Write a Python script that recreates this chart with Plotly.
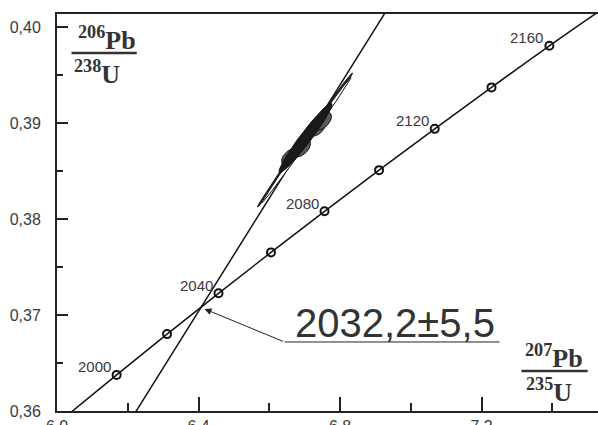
import numpy as np
import plotly.graph_objects as go

# Concordia (ages in Ma, 207Pb/235U, 206Pb/238U)
conc_age = [1980, 2000, 2020, 2040, 2060, 2080, 2100, 2120, 2140, 2160, 2180]
conc_x = [6.0287, 6.1686, 6.3111, 6.4566, 6.6049, 6.7562, 6.9104, 7.0678, 7.2283, 7.3919, 7.5589]
conc_y = [0.35954, 0.36376, 0.36801, 0.37226, 0.37652, 0.38080, 0.38509, 0.38939, 0.39371, 0.39804, 0.40231]
marker_ages = [2000, 2020, 2040, 2060, 2080, 2100, 2120, 2140, 2160]
label_ages = [2000, 2040, 2080, 2120, 2160]

# Discordia line
disc_x = [6.20, 6.95]
disc_y = [0.35858, 0.40281]

# Error ellipses: centre, half-extents, correlation
ell_cx = [6.7011, 6.7053, 6.6572, 6.6912, 6.7364, 6.7505, 6.7025]
ell_cy = [0.38823, 0.38823, 0.38646, 0.38740, 0.38948, 0.39021, 0.38844]
ell_sx = [0.1343, 0.1258, 0.0225, 0.0255, 0.0225, 0.0255, 0.0750]
ell_sy = [0.00698, 0.00651, 0.00084, 0.00094, 0.00084, 0.00094, 0.00362]
ell_rho = [0.9979, 0.9982, 0.5, 0.5, 0.5, 0.5, 0.966]
ell_fill = ["#2a2a2a", "#ffffff", "#5a5a5a", "#5a5a5a", "#5a5a5a", "#5a5a5a", "#1a1a1a"]

# Intercept result
intercept_label = "2032,2±5,5"
intercept_x = 6.4170
intercept_y = 0.37063

x_major = [6.0, 6.4, 6.8, 7.2]
x_minor = [6.2, 6.6, 7.0, 7.4]
y_major = [0.36, 0.37, 0.38, 0.39, 0.40]
y_minor = [0.365, 0.375, 0.385, 0.395]

fig = go.Figure()

fig.add_trace(go.Scatter(x=disc_x, y=disc_y, mode="lines",
                         line=dict(color="#111", width=1.5), hoverinfo="skip"))
fig.add_trace(go.Scatter(x=conc_x, y=conc_y, mode="lines", line_shape="spline",
                         line=dict(color="#111", width=1.5), hoverinfo="skip"))
mx = [conc_x[conc_age.index(a)] for a in marker_ages]
my = [conc_y[conc_age.index(a)] for a in marker_ages]
fig.add_trace(go.Scatter(x=mx, y=my, mode="markers",
                         marker=dict(symbol="circle-open", size=8, color="#111",
                                     line=dict(width=2, color="#111")),
                         hoverinfo="skip"))

t = np.linspace(0, 2 * np.pi, 120)
for cx, cy, sx, sy, r, fc in zip(ell_cx, ell_cy, ell_sx, ell_sy, ell_rho, ell_fill):
    ex = cx + sx * np.cos(t)
    ey = cy + sy * (r * np.cos(t) + np.sqrt(1 - r * r) * np.sin(t))
    fig.add_trace(go.Scatter(x=ex, y=ey, mode="lines", fill="toself", fillcolor=fc,
                             line=dict(color="#111", width=1), hoverinfo="skip"))

for a in label_ages:
    i = conc_age.index(a)
    fig.add_annotation(x=conc_x[i], y=conc_y[i], text=str(a), showarrow=False,
                       xanchor="right", yanchor="middle", xshift=-4, yshift=8,
                       font=dict(family="Liberation Sans, Arial", size=15, color="#3a3a3a"))

# arrow to the intercept
fig.add_annotation(x=intercept_x, y=intercept_y, ax=6.6431, ay=0.36719,
                   axref="x", ayref="y", text="", showarrow=True,
                   arrowhead=2, arrowsize=1.4, arrowwidth=1, arrowcolor="#222")
fig.add_shape(type="line", x0=6.6431, y0=0.36719, x1=7.2509, y1=0.36719,
              line=dict(color="#222", width=1))
fig.add_annotation(x=6.956, y=0.36719, text=intercept_label, showarrow=False,
                   xanchor="center", yanchor="bottom", yshift=-5,
                   font=dict(family="Liberation Sans, Arial", size=40, color="#333"))

# axis title fractions
ser = "Liberation Serif, Times New Roman"
fig.add_annotation(x=6.140, y=0.39729, text="<b><sup>206</sup>Pb</b>", showarrow=False,
                   xanchor="center", yanchor="bottom", yshift=-4,
                   font=dict(family=ser, size=26, color="#333"))
fig.add_shape(type="line", x0=6.041, y0=0.39729, x1=6.2255, y1=0.39729,
              line=dict(color="#333", width=2.5))
fig.add_annotation(x=6.113, y=0.39729, text="<b><sup>238</sup>U</b>", showarrow=False,
                   xanchor="center", yanchor="top", yshift=-1,
                   font=dict(family=ser, size=26, color="#333"))

fig.add_annotation(x=7.405, y=0.364167, text="<b><sup>207</sup>Pb</b>", showarrow=False,
                   xanchor="center", yanchor="bottom", yshift=-4,
                   font=dict(family=ser, size=26, color="#333"))
fig.add_shape(type="line", x0=7.313, y0=0.364167, x1=7.500, y1=0.364167,
              line=dict(color="#333", width=2.5))
fig.add_annotation(x=7.391, y=0.364167, text="<b><sup>235</sup>U</b>", showarrow=False,
                   xanchor="center", yanchor="top", yshift=-1,
                   font=dict(family=ser, size=26, color="#333"))

tickfont = dict(family="Liberation Sans, Arial", size=16, color="#3a3a3a")
fig.update_layout(
    width=598, height=425,
    margin=dict(l=57, r=0, t=14, b=14, autoexpand=False),
    plot_bgcolor="white", paper_bgcolor="white",
    showlegend=False, separators=", ",
    xaxis=dict(range=[6.0, 6.0 + 541 / 353.75], tickvals=x_major, tickformat=".1f",
               ticks="inside", ticklen=14, tickwidth=1.5, tickcolor="#222",
               minor=dict(tickvals=x_minor, ticks="inside", ticklen=8, tickwidth=1.5, tickcolor="#222"),
               showline=True, linecolor="#222", linewidth=2, mirror=True, automargin=False,
               showgrid=False, zeroline=False, tickfont=tickfont),
    yaxis=dict(range=[0.36, 0.36 + 397 / 9600], tickvals=y_major, tickformat=".2f",
               ticks="inside", ticklen=11, tickwidth=1.5, tickcolor="#222",
               minor=dict(tickvals=y_minor, ticks="inside", ticklen=6, tickwidth=1.5, tickcolor="#222"),
               showline=True, linecolor="#222", linewidth=2, automargin=False,
               showgrid=False, zeroline=False, tickfont=tickfont, ticklabelstandoff=11),
)

fig.write_html("out.html", config={"displayModeBar": False},
               post_script="document.body.style.margin='0';")
